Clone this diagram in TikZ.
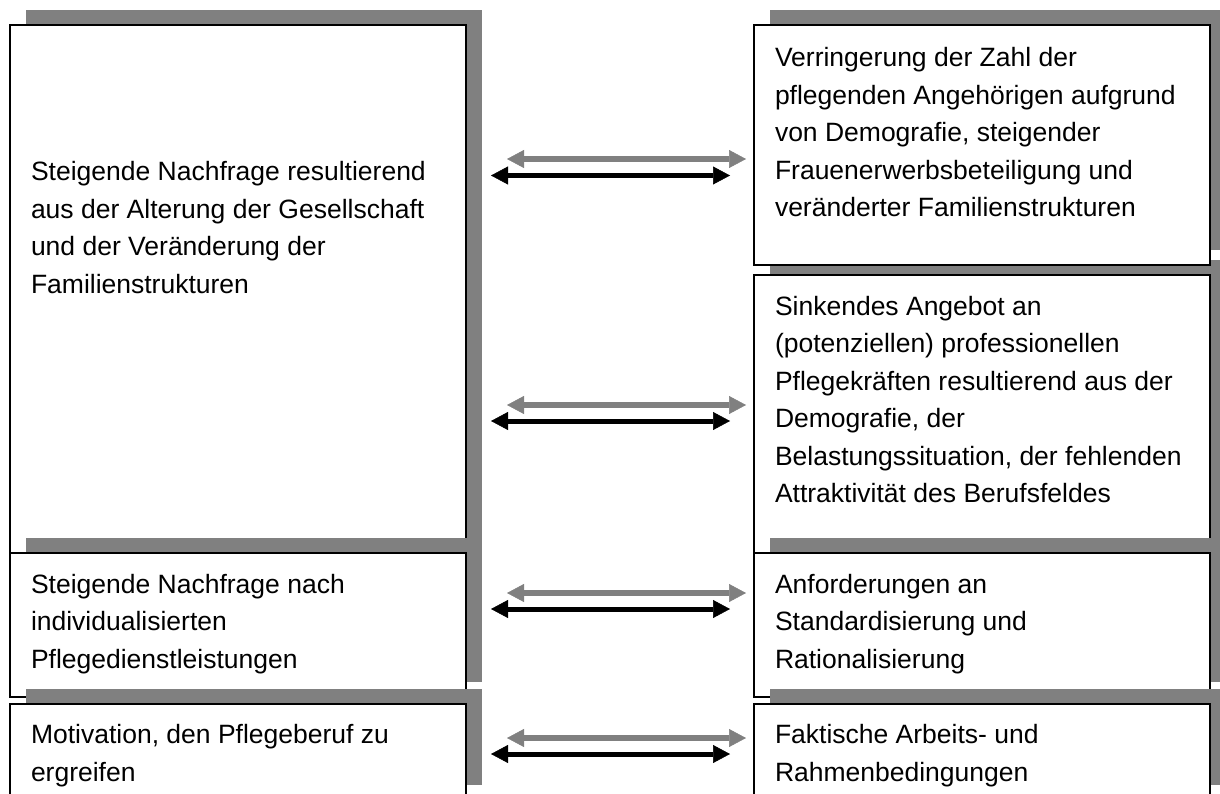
\documentclass[tikz,border=0pt]{standalone}
\usepackage{fontspec}
\setmainfont{Liberation Sans}
\usetikzlibrary{arrows.meta}
\definecolor{shadowgray}{RGB}{128,128,128}
\definecolor{arrowgray}{RGB}{128,128,128}
\newcommand{\boxtxt}[1]{\parbox[t]{440pt}{\fontsize{26.5}{37.5}\selectfont\raggedright #1}}
\tikzset{
  shadowbox/.style={fill=shadowgray, draw=none},
  mainbox/.style={fill=white, draw=black, line width=1.8pt},
  txt/.style={anchor=base west, inner sep=0pt, outer sep=0pt},
  grayarrow/.style={draw=arrowgray, line width=5.5pt,
    {Triangle[length=17pt,width=18pt,line width=0.5pt]}-{Triangle[length=17pt,width=18pt,line width=0.5pt]}},
  blackarrow/.style={draw=black, line width=5pt,
    {Triangle[length=17pt,width=18pt,line width=0.5pt]}-{Triangle[length=17pt,width=18pt,line width=0.5pt]}}
}
\begin{document}
\begin{tikzpicture}[x=1pt,y=-1pt]
\useasboundingbox (0,0) rectangle (1220,794);
\clip (0,0) rectangle (1220,794);
% left column
\fill[shadowbox] (26,10) rectangle (482,545);
\draw[mainbox] (10,25) rectangle (466,560);
\fill[shadowbox] (26,538) rectangle (482,682);
\draw[mainbox] (10,553) rectangle (466,697);
\fill[shadowbox] (26,689) rectangle (482,785);
\draw[mainbox] (10,704) rectangle (466,800);
% right column
\fill[shadowbox] (770,10) rectangle (1226,250);
\fill[shadowbox] (770,260) rectangle (1226,545);
\draw[mainbox] (754,25) rectangle (1210,265);
\draw[mainbox] (754,275) rectangle (1210,560);
\fill[shadowbox] (770,538) rectangle (1226,682);
\draw[mainbox] (754,553) rectangle (1210,697);
\fill[shadowbox] (770,689) rectangle (1226,785);
\draw[mainbox] (754,704) rectangle (1210,800);
% texts
\node[txt] (l1) at (31,181) {\boxtxt{Steigende Nachfrage resultierend\\aus der Alterung der Gesellschaft\\und der Veränderung der\\Familienstrukturen}};
\node[txt] (l2) at (31,593) {\boxtxt{Steigende Nachfrage nach\\individualisierten\\Pflegedienstleistungen}};
\node[txt] (l3) at (31,743.5) {\boxtxt{Motivation, den Pflegeberuf zu\\ergreifen}};
\node[txt] (r1) at (775,67) {\boxtxt{Verringerung der Zahl der\\pflegenden Angehörigen aufgrund\\von Demografie, steigender\\Frauenerwerbsbeteiligung und\\veränderter Familienstrukturen}};
\node[txt] (r2) at (775,315) {\boxtxt{Sinkendes Angebot an\\(potenziellen) professionellen\\Pflegekräften resultierend aus der\\Demografie, der\\Belastungssituation, der fehlenden\\Attraktivität des Berufsfeldes}};
\node[txt] (r3) at (775,593) {\boxtxt{Anforderungen an\\Standardisierung und\\Rationalisierung}};
\node[txt] (r4) at (775,743.5) {\boxtxt{Faktische Arbeits- und\\Rahmenbedingungen}};
% arrow end points
\coordinate (g1a) at (507,159);   \coordinate (g1b) at (746,159);
\coordinate (b1a) at (491,175.5); \coordinate (b1b) at (730,175.5);
\coordinate (g2a) at (507,405);   \coordinate (g2b) at (746,405);
\coordinate (b2a) at (491,421);   \coordinate (b2b) at (730,421);
\coordinate (g3a) at (507,593);   \coordinate (g3b) at (746,593);
\coordinate (b3a) at (491,609);   \coordinate (b3b) at (730,609);
\coordinate (g4a) at (507,738);   \coordinate (g4b) at (746,738);
\coordinate (b4a) at (491,754);   \coordinate (b4b) at (730,754);
\draw[grayarrow] (g1a) -- (g1b);
\draw[blackarrow] (b1a) -- (b1b);
\draw[grayarrow] (g2a) -- (g2b);
\draw[blackarrow] (b2a) -- (b2b);
\draw[grayarrow] (g3a) -- (g3b);
\draw[blackarrow] (b3a) -- (b3b);
\draw[grayarrow] (g4a) -- (g4b);
\draw[blackarrow] (b4a) -- (b4b);
\end{tikzpicture}
\end{document}
